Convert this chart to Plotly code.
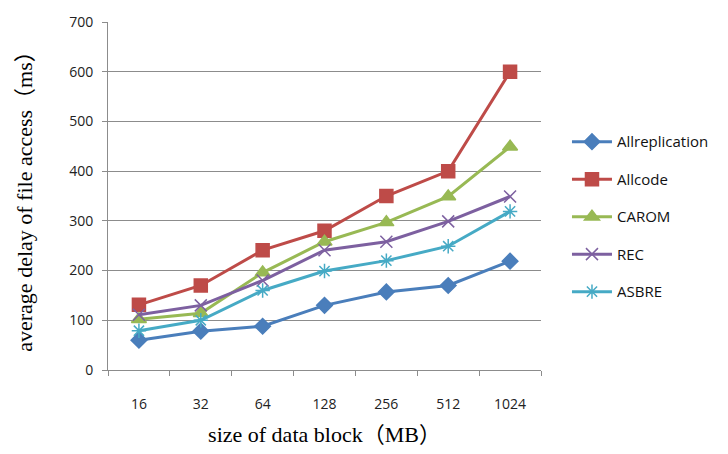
import plotly.graph_objects as go

categories = ["16", "32", "64", "128", "256", "512", "1024"]
allreplication = [60, 78, 88, 130, 157, 170, 219]
allcode = [131, 170, 241, 280, 350, 400, 600]
carom = [102, 114, 196, 258, 297, 349, 449]
rec = [111, 130, 180, 241, 258, 299, 349]
asbre = [79, 100, 160, 199, 220, 249, 319]

series = [
    ("Allreplication", allreplication, "#4A7EBB", "diamond", 12),
    ("Allcode", allcode, "#BE4B48", "square", 13),
    ("CAROM", carom, "#98B954", "triangle-up", 13),
    ("REC", rec, "#7D60A0", "x-thin-open", 12),
    ("ASBRE", asbre, "#46AAC5", "asterisk-open", 12),
]

fig = go.Figure()
for i, (name, vals, color, sym, size) in enumerate(series):
    fig.add_trace(go.Scatter(
        x=categories, y=vals, name=name, mode="lines+markers",
        line=dict(color=color, width=3),
        marker=dict(symbol=sym, size=size, color=color,
                    line=dict(color=color, width=1.5)),
        legendgroup=f"g{i}",
    ))

fig.update_layout(
    width=728, height=454,
    margin=dict(l=108, r=187, t=19, b=84),
    paper_bgcolor="white", plot_bgcolor="white",
    font=dict(family="Open Sans, Liberation Sans, sans-serif", color="#222222"),
    legend=dict(x=1.06, y=0.44, xanchor="left", yanchor="middle",
                font=dict(size=15, family="Open Sans, sans-serif", color="#111111"),
                traceorder="grouped", tracegroupgap=15, itemwidth=40),
    showlegend=True,
)
fig.update_xaxes(
    type="category", range=[-0.5, 6.5],
    showline=True, linecolor="#8C8C8C", linewidth=1,
    ticks="outside", tickson="boundaries", ticklen=5, tickcolor="#8C8C8C",
    tickfont=dict(size=14, family="Open Sans, sans-serif", color="#222222"),
    ticklabelstandoff=21,
    showgrid=False,
    title=dict(text="size of data block（MB）",
               font=dict(size=22, family="Liberation Serif, Noto Sans CJK SC, serif", color="#000000"),
               standoff=14),
)
fig.update_yaxes(
    range=[0, 700], dtick=100,
    showline=True, linecolor="#8C8C8C", linewidth=1,
    ticks="outside", ticklen=5, tickcolor="#8C8C8C",
    tickfont=dict(size=14, family="Open Sans, sans-serif", color="#222222"),
    ticklabelstandoff=6,
    showgrid=True, gridcolor="#8C8C8C", gridwidth=1,
    zeroline=False,
    title=dict(text="average delay of file access（ms）",
               font=dict(size=22, family="Liberation Serif, Noto Sans CJK SC, serif", color="#000000"),
               standoff=30),
)

fig.write_html("out.html")
